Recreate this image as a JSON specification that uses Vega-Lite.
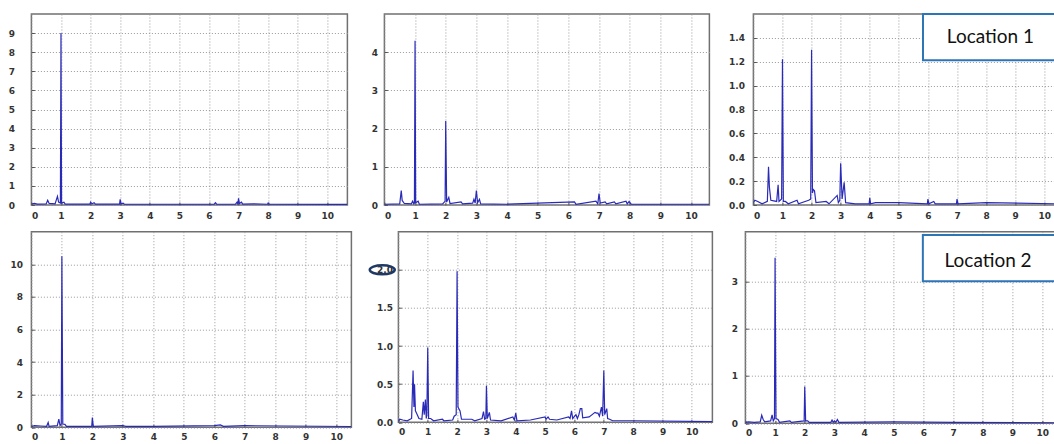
{
  "$schema": "https://vega.github.io/schema/vega-lite/v6.json",
  "background": "white",
  "padding": {"left": 6.4, "top": 12, "right": 0, "bottom": 0},
  "config": {
    "view": {"stroke": "#707070", "strokeWidth": 1.5},
    "axis": {"domain": false, "ticks": true, "tickSize": -3, "tickColor": "#555555", "tickWidth": 1, "labelOverlap": false, "grid": true, "gridColor": "#9a9a9a", "gridDash": [1, 2], "gridWidth": 1, "labelFont": "DejaVu Sans", "labelFontWeight": "bold", "labelFontSize": 9, "labelColor": "#333333", "title": null},
    "line": {"color": "#2a2ab8", "strokeWidth": 1.2}
  },
  "datasets": {
    "p1": [{"f":0,"a":0.05},{"f":0.1,"a":0.08},{"f":0.2,"a":0.05},{"f":0.5,"a":0.06},{"f":0.55,"a":0.25},{"f":0.6,"a":0.08},{"f":0.8,"a":0.06},{"f":0.88,"a":0.45},{"f":0.92,"a":0.15},{"f":0.98,"a":0.1},{"f":1.0,"a":9.0},{"f":1.02,"a":0.1},{"f":1.1,"a":0.15},{"f":1.14,"a":0.05},{"f":1.98,"a":0.05},{"f":2.0,"a":0.15},{"f":2.05,"a":0.06},{"f":2.12,"a":0.12},{"f":2.16,"a":0.05},{"f":2.98,"a":0.05},{"f":3.0,"a":0.3},{"f":3.03,"a":0.06},{"f":3.1,"a":0.1},{"f":3.14,"a":0.04},{"f":6.18,"a":0.04},{"f":6.22,"a":0.12},{"f":6.26,"a":0.04},{"f":6.9,"a":0.05},{"f":6.95,"a":0.15},{"f":6.98,"a":0.05},{"f":7.0,"a":0.35},{"f":7.03,"a":0.08},{"f":7.1,"a":0.15},{"f":7.14,"a":0.05},{"f":7.5,"a":0.06},{"f":7.98,"a":0.04},{"f":8.0,"a":0.1},{"f":8.03,"a":0.04},{"f":10.68,"a":0.03}],
    "p2": [{"f":0,"a":0.02},{"f":0.5,"a":0.03},{"f":0.55,"a":0.38},{"f":0.58,"a":0.12},{"f":0.65,"a":0.04},{"f":0.88,"a":0.03},{"f":0.92,"a":0.1},{"f":0.96,"a":0.03},{"f":0.98,"a":0.05},{"f":1.0,"a":4.3},{"f":1.02,"a":0.06},{"f":1.1,"a":0.1},{"f":1.14,"a":0.02},{"f":1.9,"a":0.03},{"f":1.96,"a":0.08},{"f":1.98,"a":0.1},{"f":2.0,"a":2.2},{"f":2.03,"a":0.08},{"f":2.1,"a":0.2},{"f":2.14,"a":0.04},{"f":2.5,"a":0.08},{"f":2.55,"a":0.03},{"f":2.88,"a":0.05},{"f":2.92,"a":0.15},{"f":2.96,"a":0.05},{"f":3.0,"a":0.38},{"f":3.04,"a":0.06},{"f":3.1,"a":0.15},{"f":3.14,"a":0.03},{"f":4.0,"a":0.02},{"f":6.2,"a":0.08},{"f":6.25,"a":0.02},{"f":6.9,"a":0.1},{"f":6.96,"a":0.03},{"f":7.0,"a":0.3},{"f":7.04,"a":0.05},{"f":7.2,"a":0.08},{"f":7.25,"a":0.03},{"f":7.5,"a":0.08},{"f":7.55,"a":0.03},{"f":7.88,"a":0.1},{"f":7.92,"a":0.03},{"f":7.98,"a":0.09},{"f":8.05,"a":0.02},{"f":10.6,"a":0.02}],
    "p3": [{"f":0,"a":0.02},{"f":0.05,"a":0.04},{"f":0.15,"a":0.03},{"f":0.3,"a":0.01},{"f":0.48,"a":0.03},{"f":0.52,"a":0.32},{"f":0.55,"a":0.15},{"f":0.6,"a":0.04},{"f":0.8,"a":0.03},{"f":0.85,"a":0.17},{"f":0.88,"a":0.03},{"f":0.97,"a":0.05},{"f":1.0,"a":1.22},{"f":1.03,"a":0.03},{"f":1.1,"a":0.03},{"f":1.2,"a":0.01},{"f":1.5,"a":0.04},{"f":1.55,"a":0.01},{"f":1.9,"a":0.04},{"f":1.97,"a":0.05},{"f":2.0,"a":1.3},{"f":2.03,"a":0.1},{"f":2.06,"a":0.13},{"f":2.1,"a":0.12},{"f":2.15,"a":0.02},{"f":2.5,"a":0.03},{"f":2.6,"a":0.01},{"f":2.88,"a":0.08},{"f":2.92,"a":0.02},{"f":2.97,"a":0.04},{"f":3.0,"a":0.35},{"f":3.05,"a":0.05},{"f":3.12,"a":0.19},{"f":3.17,"a":0.02},{"f":3.5,"a":0.01},{"f":3.98,"a":0.01},{"f":4.0,"a":0.06},{"f":4.03,"a":0.01},{"f":4.2,"a":0.02},{"f":5.0,"a":0.02},{"f":5.98,"a":0.01},{"f":6.0,"a":0.05},{"f":6.03,"a":0.01},{"f":6.2,"a":0.03},{"f":6.25,"a":0.01},{"f":6.98,"a":0.01},{"f":7.0,"a":0.05},{"f":7.03,"a":0.01},{"f":8.0,"a":0.02},{"f":10.45,"a":0.01}],
    "p4": [{"f":0,"a":0.05},{"f":0.1,"a":0.1},{"f":0.3,"a":0.08},{"f":0.5,"a":0.06},{"f":0.55,"a":0.3},{"f":0.58,"a":0.06},{"f":0.85,"a":0.1},{"f":0.9,"a":0.5},{"f":0.94,"a":0.1},{"f":0.98,"a":0.2},{"f":1.0,"a":10.5},{"f":1.03,"a":0.2},{"f":1.1,"a":0.18},{"f":1.15,"a":0.06},{"f":1.98,"a":0.06},{"f":2.0,"a":0.6},{"f":2.03,"a":0.06},{"f":3.0,"a":0.1},{"f":3.1,"a":0.06},{"f":4.0,"a":0.06},{"f":6.0,"a":0.1},{"f":6.2,"a":0.15},{"f":6.3,"a":0.06},{"f":7.0,"a":0.1},{"f":10.5,"a":0.05}],
    "p5": [{"f":0,"a":0.01},{"f":0.05,"a":0.04},{"f":0.15,"a":0.03},{"f":0.3,"a":0.02},{"f":0.45,"a":0.05},{"f":0.5,"a":0.68},{"f":0.53,"a":0.2},{"f":0.55,"a":0.5},{"f":0.58,"a":0.15},{"f":0.62,"a":0.12},{"f":0.7,"a":0.05},{"f":0.8,"a":0.04},{"f":0.85,"a":0.27},{"f":0.88,"a":0.1},{"f":0.92,"a":0.3},{"f":0.95,"a":0.05},{"f":0.97,"a":0.1},{"f":1.0,"a":0.98},{"f":1.03,"a":0.05},{"f":1.1,"a":0.05},{"f":1.2,"a":0.02},{"f":1.5,"a":0.04},{"f":1.55,"a":0.02},{"f":1.85,"a":0.03},{"f":1.9,"a":0.08},{"f":1.97,"a":0.1},{"f":2.0,"a":1.98},{"f":2.03,"a":0.2},{"f":2.1,"a":0.15},{"f":2.15,"a":0.04},{"f":2.5,"a":0.04},{"f":2.6,"a":0.02},{"f":2.85,"a":0.05},{"f":2.9,"a":0.14},{"f":2.94,"a":0.04},{"f":2.98,"a":0.05},{"f":3.0,"a":0.48},{"f":3.03,"a":0.05},{"f":3.1,"a":0.13},{"f":3.14,"a":0.03},{"f":3.5,"a":0.02},{"f":3.9,"a":0.07},{"f":3.95,"a":0.03},{"f":4.0,"a":0.12},{"f":4.04,"a":0.02},{"f":4.5,"a":0.03},{"f":5.0,"a":0.07},{"f":5.03,"a":0.04},{"f":5.1,"a":0.07},{"f":5.15,"a":0.04},{"f":5.4,"a":0.03},{"f":5.8,"a":0.07},{"f":5.85,"a":0.05},{"f":5.9,"a":0.15},{"f":5.94,"a":0.05},{"f":6.05,"a":0.1},{"f":6.1,"a":0.05},{"f":6.15,"a":0.1},{"f":6.2,"a":0.18},{"f":6.25,"a":0.18},{"f":6.28,"a":0.06},{"f":6.5,"a":0.07},{"f":6.7,"a":0.13},{"f":6.75,"a":0.12},{"f":6.8,"a":0.12},{"f":6.85,"a":0.08},{"f":6.92,"a":0.2},{"f":6.96,"a":0.08},{"f":7.0,"a":0.68},{"f":7.03,"a":0.1},{"f":7.1,"a":0.18},{"f":7.13,"a":0.05},{"f":7.2,"a":0.04},{"f":7.3,"a":0.02},{"f":8.0,"a":0.02},{"f":10.7,"a":0.01}],
    "p6": [{"f":0,"a":0.02},{"f":0.1,"a":0.03},{"f":0.3,"a":0.02},{"f":0.5,"a":0.03},{"f":0.55,"a":0.17},{"f":0.6,"a":0.08},{"f":0.65,"a":0.03},{"f":0.85,"a":0.05},{"f":0.9,"a":0.18},{"f":0.94,"a":0.05},{"f":0.98,"a":0.1},{"f":1.0,"a":3.5},{"f":1.03,"a":0.1},{"f":1.1,"a":0.08},{"f":1.15,"a":0.02},{"f":1.5,"a":0.05},{"f":1.55,"a":0.02},{"f":1.98,"a":0.05},{"f":2.0,"a":0.78},{"f":2.03,"a":0.05},{"f":2.1,"a":0.05},{"f":2.15,"a":0.02},{"f":2.88,"a":0.02},{"f":2.92,"a":0.07},{"f":2.96,"a":0.02},{"f":3.0,"a":0.05},{"f":3.05,"a":0.02},{"f":3.1,"a":0.08},{"f":3.15,"a":0.02},{"f":5.0,"a":0.03},{"f":7.0,"a":0.02},{"f":10.48,"a":0.01}]
  },
  "spacing": 8.7,
  "vconcat": [
    {
      "spacing": 8,
      "hconcat": [
        {
          "width": 316, "height": 191,
          "data": {"name": "p1"},
          "mark": {"type": "line", "clip": true},
          "encoding": {
            "x": {"field": "f", "type": "quantitative", "scale": {"domain": [0, 10.68], "nice": false, "zero": false}, "axis": {"values": [0,1,2,3,4,5,6,7,8,9,10], "labelPadding": 9, "minExtent": 16, "maxExtent": 16}},
            "y": {"field": "a", "type": "quantitative", "scale": {"domain": [0, 10], "nice": false}, "axis": {"values": [0,1,2,3,4,5,6,7,8,9], "labelPadding": 20, "minExtent": 24, "maxExtent": 24}}
          }
        },
        {
          "width": 325, "height": 191,
          "data": {"name": "p2"},
          "mark": {"type": "line", "clip": true},
          "encoding": {
            "x": {"field": "f", "type": "quantitative", "scale": {"domain": [0, 10.6], "nice": false, "zero": false}, "axis": {"values": [0,1,2,3,4,5,6,7,8,9,10], "labelPadding": 9, "minExtent": 16, "maxExtent": 16}},
            "y": {"field": "a", "type": "quantitative", "scale": {"domain": [0, 5], "nice": false}, "axis": {"values": [0,1,2,3,4], "labelPadding": 10, "minExtent": 26.3, "maxExtent": 26.3}}
          }
        },
        {
          "width": 304, "height": 191,
          "layer": [
            {
              "data": {"name": "p3"},
              "mark": {"type": "line", "clip": true},
              "encoding": {
                "x": {"field": "f", "type": "quantitative", "scale": {"domain": [0, 10.45], "nice": false, "zero": false}, "axis": {"values": [0,1,2,3,4,5,6,7,8,9,10], "labelPadding": 9, "minExtent": 16, "maxExtent": 16}},
                "y": {"field": "a", "type": "quantitative", "scale": {"domain": [0, 1.6], "nice": false}, "axis": {"values": [0,0.2,0.4,0.6,0.8,1.0,1.2,1.4], "format": ".1f", "labelPadding": 12, "minExtent": 33.3, "maxExtent": 33.3}}
              }
            },
            {
              "data": {"values": [{"label": "Location 1"}]},
              "mark": {"type": "rect", "fill": "white", "stroke": "#2e75b6", "strokeWidth": 2, "clip": false},
              "encoding": {
                "x": {"datum": 5.83, "type": "quantitative", "axis": {"values": [0,1,2,3,4,5,6,7,8,9,10], "labelPadding": 9, "minExtent": 16, "maxExtent": 16}},
                "x2": {"datum": 10.45},
                "y": {"datum": 1.6, "type": "quantitative", "axis": {"values": [0,0.2,0.4,0.6,0.8,1.0,1.2,1.4], "format": ".1f", "labelPadding": 12, "minExtent": 33.3, "maxExtent": 33.3}},
                "y2": {"datum": 1.213}
              }
            },
            {
              "data": {"values": [{"label": "Location 1"}]},
              "mark": {"type": "text", "font": "Lato", "fontSize": 19, "color": "#111111", "align": "left", "baseline": "middle", "clip": false},
              "encoding": {
                "x": {"datum": 6.65, "type": "quantitative", "axis": {"values": [0,1,2,3,4,5,6,7,8,9,10], "labelPadding": 9, "minExtent": 16, "maxExtent": 16}},
                "y": {"datum": 1.41, "type": "quantitative", "axis": {"values": [0,0.2,0.4,0.6,0.8,1.0,1.2,1.4], "format": ".1f", "labelPadding": 12, "minExtent": 33.3, "maxExtent": 33.3}},
                "text": {"field": "label"}
              }
            }
          ]
        }
      ]
    },
    {
      "spacing": 8,
      "hconcat": [
        {
          "width": 320, "height": 195.6,
          "data": {"name": "p4"},
          "mark": {"type": "line", "clip": true},
          "encoding": {
            "x": {"field": "f", "type": "quantitative", "scale": {"domain": [0, 10.5], "nice": false, "zero": false}, "axis": {"values": [0,1,2,3,4,5,6,7,8,9,10], "labelPadding": 8, "minExtent": 15, "maxExtent": 15}},
            "y": {"field": "a", "type": "quantitative", "scale": {"domain": [0, 12], "nice": false}, "axis": {"values": [0,2,4,6,8,10], "labelPadding": 12, "minExtent": 24, "maxExtent": 24}}
          }
        },
        {
          "width": 314, "height": 190.6,
          "layer": [
            {
              "data": {"name": "p5"},
              "mark": {"type": "line", "clip": true},
              "encoding": {
                "x": {"field": "f", "type": "quantitative", "scale": {"domain": [0, 10.7], "nice": false, "zero": false}, "axis": {"values": [0,1,2,3,4,5,6,7,8,9,10], "labelPadding": 8, "minExtent": 15, "maxExtent": 15}},
                "y": {"field": "a", "type": "quantitative", "scale": {"domain": [0, 2.5], "nice": false}, "axis": {"values": [0,0.5,1.0,1.5,2.0], "format": ".1f", "labelPadding": 9, "minExtent": 37, "maxExtent": 37}}
              }
            },
            {
              "data": {"values": [{"note": "2.0"}]},
              "mark": {"type": "point", "shape": "M-1,0A1,0.36,0,1,0,1,0A1,0.36,0,1,0,-1,0Z", "size": 625, "filled": false, "stroke": "#1f3864", "strokeWidth": 2.5, "opacity": 1, "clip": false},
              "encoding": {
                "x": {"datum": -0.55, "type": "quantitative", "axis": {"values": [0,1,2,3,4,5,6,7,8,9,10], "labelPadding": 8, "minExtent": 15, "maxExtent": 15}},
                "y": {"datum": 2.0, "type": "quantitative", "axis": {"values": [0,0.5,1.0,1.5,2.0], "format": ".1f", "labelPadding": 9, "minExtent": 37, "maxExtent": 37}}
              }
            }
          ]
        },
        {
          "width": 311, "height": 191.6,
          "layer": [
            {
              "data": {"name": "p6"},
              "mark": {"type": "line", "clip": true},
              "encoding": {
                "x": {"field": "f", "type": "quantitative", "scale": {"domain": [0, 10.48], "nice": false, "zero": false}, "axis": {"values": [0,1,2,3,4,5,6,7,8,9,10], "labelPadding": 8, "minExtent": 15, "maxExtent": 15}},
                "y": {"field": "a", "type": "quantitative", "scale": {"domain": [0, 4.05], "nice": false}, "axis": {"values": [0,1,2,3], "labelPadding": 11, "minExtent": 22.7, "maxExtent": 22.7}}
              }
            },
            {
              "data": {"values": [{"label": "Location 2"}]},
              "mark": {"type": "rect", "fill": "white", "stroke": "#2e75b6", "strokeWidth": 2, "clip": false},
              "encoding": {
                "x": {"datum": 5.98, "type": "quantitative", "axis": {"values": [0,1,2,3,4,5,6,7,8,9,10], "labelPadding": 8, "minExtent": 15, "maxExtent": 15}},
                "x2": {"datum": 10.48},
                "y": {"datum": 3.98, "type": "quantitative", "axis": {"values": [0,1,2,3], "labelPadding": 11, "minExtent": 22.7, "maxExtent": 22.7}},
                "y2": {"datum": 3.0}
              }
            },
            {
              "data": {"values": [{"label": "Location 2"}]},
              "mark": {"type": "text", "font": "Lato", "fontSize": 19, "color": "#111111", "align": "left", "baseline": "middle", "clip": false},
              "encoding": {
                "x": {"datum": 6.71, "type": "quantitative", "axis": {"values": [0,1,2,3,4,5,6,7,8,9,10], "labelPadding": 8, "minExtent": 15, "maxExtent": 15}},
                "y": {"datum": 3.44, "type": "quantitative", "axis": {"values": [0,1,2,3], "labelPadding": 11, "minExtent": 22.7, "maxExtent": 22.7}},
                "text": {"field": "label"}
              }
            }
          ]
        }
      ]
    }
  ]
}
